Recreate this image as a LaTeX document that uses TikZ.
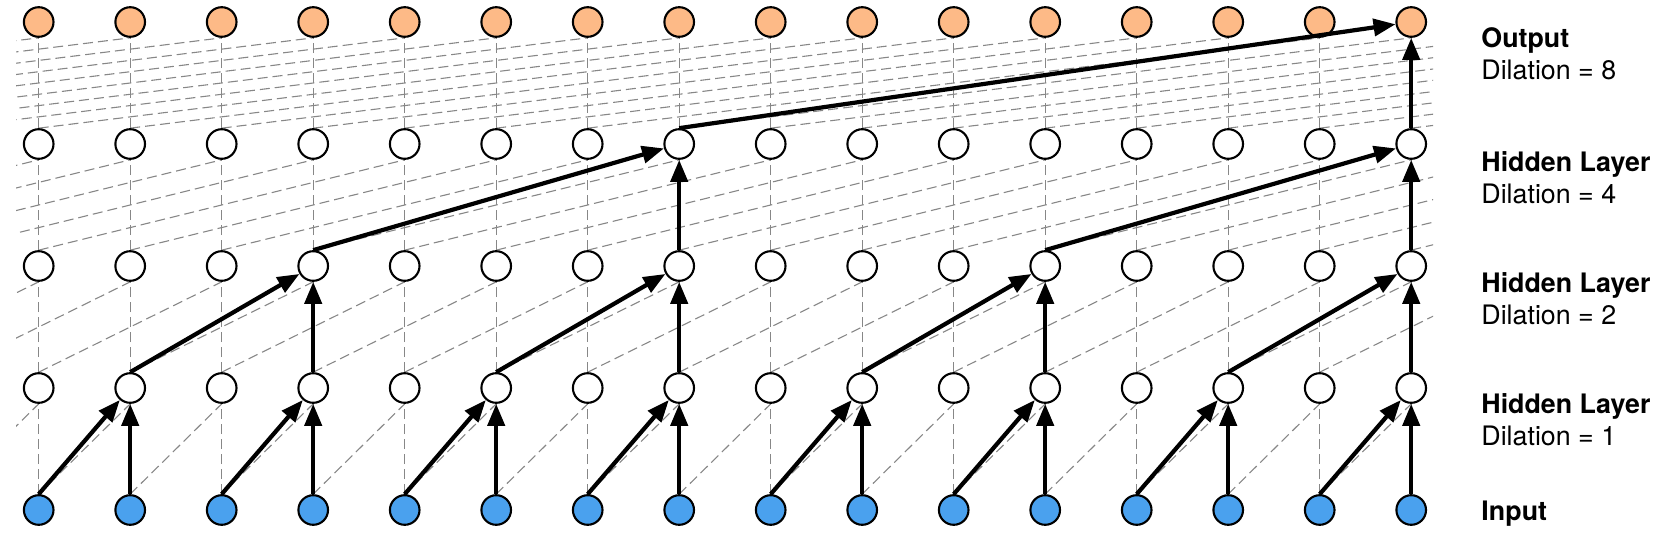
\documentclass[tikz,border=0pt]{standalone}
\usepackage{fontspec}
\setmainfont{TeX Gyre Heros}
\usetikzlibrary{arrows.meta,backgrounds}
\definecolor{outorange}{RGB}{253,186,135}
\definecolor{inblue}{RGB}{74,161,238}
\definecolor{dashgray}{RGB}{135,135,135}
\begin{document}
\begin{tikzpicture}[x=0.5pt,y=-0.5pt,
  neuron/.style={circle,draw=black,line width=1.05pt,minimum size=14.8pt,inner sep=0pt},
  ghost/.style={neuron,draw=none,fill=none},
  hid/.style={neuron,fill=white},
  inp/.style={neuron,fill=inblue},
  outp/.style={neuron,fill=outorange},
  conn/.style={draw=dashgray,line width=0.55pt,dash pattern=on 5pt off 2.5pt},
  boldarrow/.style={line width=2.1pt,-{Triangle[length=11pt,width=8.5pt]}},
  lblb/.style={anchor=base west,inner sep=0pt,font=\fontsize{13.4}{16}\selectfont\bfseries},
  lbl/.style={anchor=base west,inner sep=0pt,font=\fontsize{13.4}{16}\selectfont}]
\useasboundingbox (0,0) rectangle (1668,551);
% nodes: index k = column + 8; real columns k = 8..23
\foreach \L/\y/\sty in {0/510/inp,1/388/hid,2/266/hid,3/144/hid,4/22/outp}{
  \foreach \k in {0,...,31}{
    \pgfmathsetmacro\xx{38.7+91.5*(\k-8)}
    \ifnum\k<8
      \node[ghost] (n\L-\k) at (\xx,\y) {};
    \else\ifnum\k>23
      \node[ghost] (n\L-\k) at (\xx,\y) {};
    \else
      \node[\sty] (n\L-\k) at (\xx,\y) {};
    \fi\fi
  }
}
% dashed connections
\begin{pgfonlayer}{background}
\begin{scope}
\clip (16,0) rectangle (1433,551);
\foreach \L/\U in {0/1,1/2,2/3,3/4}{
  \foreach \k in {8,...,23}{
    \draw[conn] (n\L-\k.north) -- (n\U-\k.south);
  }
}
\foreach \L/\U/\d/\mx in {0/1/1/23,1/2/2/24,2/3/4/27,3/4/8/31}{
  \foreach \i in {8,...,\mx}{
    \pgfmathtruncatemacro\j{\i-\d}
    \draw[conn] (n\L-\j.north) -- (n\U-\i.south);
  }
}
\end{scope}
\end{pgfonlayer}
% bold arrows
\foreach \c in {9,11,13,15,17,19,21,23}{
  \pgfmathtruncatemacro\p{\c-1}
  \draw[boldarrow] (n0-\p.north) -- (n1-\c);
  \draw[boldarrow] (n0-\c.north) -- (n1-\c);
}
\foreach \c in {11,15,19,23}{
  \pgfmathtruncatemacro\p{\c-2}
  \draw[boldarrow] (n1-\p.north) -- (n2-\c);
  \draw[boldarrow] (n1-\c.north) -- (n2-\c);
}
\foreach \c in {15,23}{
  \pgfmathtruncatemacro\p{\c-4}
  \draw[boldarrow] (n2-\p.north) -- (n3-\c);
  \draw[boldarrow] (n2-\c.north) -- (n3-\c);
}
\draw[boldarrow] (n3-15.north) -- (n4-23);
\draw[boldarrow] (n3-23.north) -- (n4-23);
% labels
\node[lblb] (t4a) at (1481,48) {Output};
\node[lbl]  (t4b) at (1481,80) {Dilation = 8};
\node[lblb] (t3a) at (1481,171) {Hidden Layer};
\node[lbl]  (t3b) at (1481,203) {Dilation = 4};
\node[lblb] (t2a) at (1481,292) {Hidden Layer};
\node[lbl]  (t2b) at (1481,324) {Dilation = 2};
\node[lblb] (t1a) at (1481,413) {Hidden Layer};
\node[lbl]  (t1b) at (1481,445) {Dilation = 1};
\node[lblb] (t0a) at (1481,520) {Input};
\end{tikzpicture}
\end{document}
